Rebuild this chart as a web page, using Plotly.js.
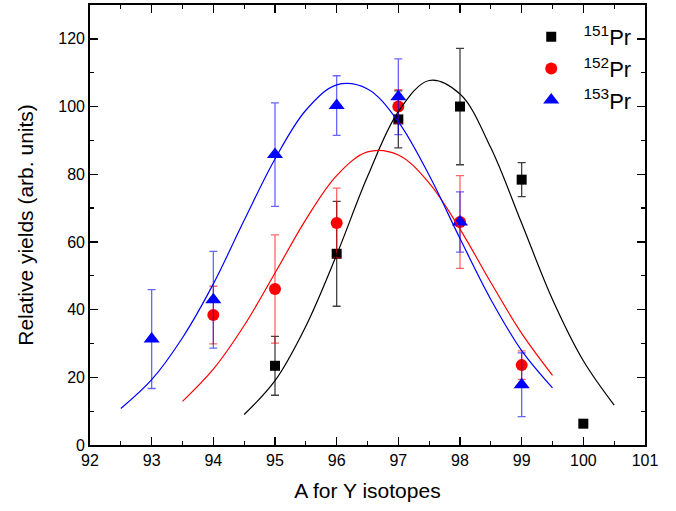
<!DOCTYPE html>
<html>
<head>
<meta charset="utf-8">
<script src="https://cdn.plot.ly/plotly-3.0.1.min.js"></script>
<style>html,body{margin:0;padding:0;background:#fff;}#chart{width:676px;height:511px;}</style>
</head>
<body>
<div id="chart"></div>
<script>
// Measured points
const x151 = [95, 96, 97, 98, 99, 100];
const y151 = [23.4, 56.5, 96.2, 100.0, 78.4, 6.3];
const e151 = [8.7, 15.5, 8.4, 17.2, 5.0, 0];

const x152 = [94, 95, 96, 97, 98, 99];
const y152 = [38.4, 46.1, 65.6, 100.0, 65.9, 23.6];
const e152 = [8.5, 16.0, 10.3, 5.0, 13.7, 4.2];

const x153 = [93, 94, 95, 96, 97, 98, 99];
const y153 = [31.3, 42.9, 85.8, 100.3, 102.9, 65.9, 17.8];
const e153 = [14.6, 14.3, 15.3, 8.8, 11.2, 8.9, 9.4];

// Fit curves
const fx151 = [94.5, 95.0, 95.5, 96.0, 96.5, 97.0, 97.5, 98.0, 98.5, 99.0, 99.5, 100.0, 100.5];
const fy151 = [9.0, 19.0, 35.1, 56.2, 79.3, 98.5, 107.7, 103.7, 87.8, 65.5, 43.0, 24.9, 11.8];

const fx152 = [93.5, 94.0, 94.5, 95.0, 95.5, 96.0, 96.5, 97.0, 97.5, 98.0, 98.5, 99.0, 99.5];
const fy152 = [12.9, 22.4, 35.3, 50.8, 66.6, 79.6, 86.6, 85.7, 77.4, 63.8, 48.0, 33.0, 20.6];

const fx153 = [92.5, 93.0, 93.5, 94.0, 94.5, 95.0, 95.5, 96.0, 96.5, 97.0, 97.5, 98.0, 98.5, 99.0, 99.5];
const fy153 = [10.8, 19.3, 31.7, 47.6, 66.4, 84.5, 98.9, 106.4, 105.2, 95.5, 79.7, 61.0, 43.0, 27.9, 16.9];

const names = ['&#160;&#160;<sup>151</sup>Pr', '&#160;&#160;<sup>152</sup>Pr', '&#160;&#160;<sup>153</sup>Pr'];

const FONT = 'Liberation Sans, Arial, Helvetica, sans-serif';

function curve(x, y, color) {
  return {x: x, y: y, mode: 'lines', type: 'scatter', showlegend: false, hoverinfo: 'skip',
          line: {color: color, width: 1.2, shape: 'spline', smoothing: 1}};
}
function pts(x, y, e, color, ecolor, symbol, size, name) {
  return {x: x, y: y, mode: 'markers', type: 'scatter', name: name,
          marker: {color: color, symbol: symbol, size: size, line: {width: 0}},
          error_y: {type: 'data', array: e, visible: true, color: ecolor, thickness: 1.3, width: 4}};
}

const data = [
  pts(x151, y151, e151, '#000000', 'rgba(0,0,0,0.75)', 'square', 10, names[0]),
  pts(x152, y152, e152, '#ff0000', 'rgba(255,0,0,0.6)', 'circle', 12, names[1]),
  pts(x153, y153, e153, '#0000ff', 'rgba(0,0,255,0.6)', 'triangle-up', 14, names[2]),
  curve(fx151, fy151, '#000000'),
  curve(fx152, fy152, '#ff0000'),
  curve(fx153, fy153, '#0000ff')
];

const axisCommon = {
  showgrid: false, zeroline: false, showline: true, linecolor: '#000', linewidth: 1.8,
  mirror: 'allticks', ticks: 'inside', ticklen: 8, tickwidth: 1.4, tickcolor: '#000',
  tickfont: {family: FONT, size: 16, color: '#000'}
};

const layout = {
  width: 676, height: 511,
  margin: {l: 90, r: 31, t: 5, b: 66},
  paper_bgcolor: '#fff', plot_bgcolor: '#fff',
  font: {family: FONT, color: '#000'},
  xaxis: Object.assign({}, axisCommon, {
    range: [92, 101], dtick: 1, tick0: 92,
    minor: {dtick: 0.5, ticks: 'inside', ticklen: 4, tickcolor: '#000', tickwidth: 1.2},
    title: {text: 'A for Y isotopes', font: {size: 21, family: FONT}, standoff: 15}
  }),
  yaxis: Object.assign({}, axisCommon, {
    range: [0, 130], dtick: 20, tick0: 0,
    minor: {dtick: 10, ticks: 'inside', ticklen: 4, tickcolor: '#000', tickwidth: 1.2},
    title: {text: 'Relative yields (arb. units)', font: {size: 21, family: FONT}, standoff: 19}
  }),
  legend: {x: 0.795, y: 0.975, xanchor: 'left', yanchor: 'top', bgcolor: 'rgba(0,0,0,0)',
           font: {size: 22, family: FONT, color: '#000'},
           tracegroupgap: 0},
  showlegend: true
};

Plotly.newPlot('chart', data, layout, {displayModeBar: false, staticPlot: true});
</script>
</body>
</html>
